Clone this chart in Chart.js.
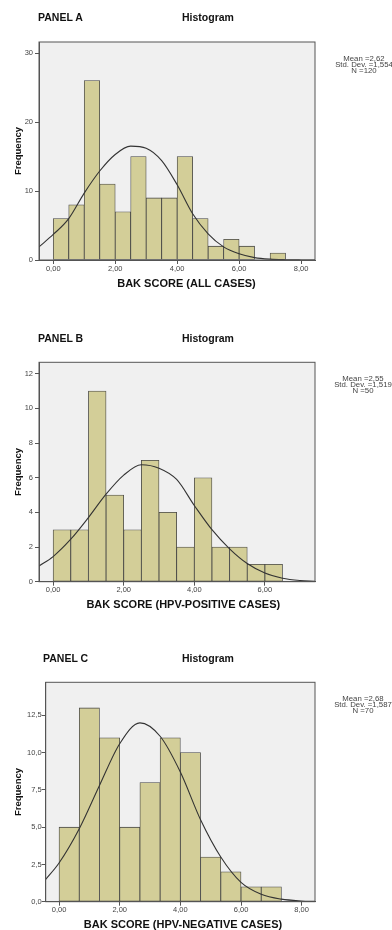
<!DOCTYPE html>
<html>
<head>
<meta charset="utf-8">
<script src="https://cdn.jsdelivr.net/npm/chart.js@4.4.1/dist/chart.umd.min.js"></script>
<style>
  html, body { margin: 0; padding: 0; background: #fff; overflow: hidden; }
  body { width: 392px; height: 930px; position: relative; font-family: 'Liberation Sans', Arial, sans-serif; }
  canvas { position: absolute; left: 0; }
  .pl { position: absolute; white-space: nowrap; font-weight: bold; color: #111; font-size: 10.5px; line-height: 1; transform: translateY(-50%); }
  .t { position: absolute; white-space: nowrap; font-weight: bold; color: #111; line-height: 1; transform: translate(-50%, -50%); }
  .st { position: absolute; white-space: nowrap; color: #444; font-size: 6.5px; line-height: 6px; text-align: center; transform: translateX(-50%) scaleX(1.2); }
</style>
</head>
<body>
<canvas id="chartA" width="392" height="300" style="top:0"></canvas>
<canvas id="chartB" width="392" height="320" style="top:300px"></canvas>
<canvas id="chartC" width="392" height="310" style="top:620px"></canvas>

<div class="pl" style="left:38px;top:16.7px">PANEL A</div>
<div class="t" style="left:208px;top:16.7px;font-size:10.5px">Histogram</div>
<div class="st" style="left:364px;top:56.3px">Mean =2,62<br>Std. Dev. =1,554<br>N =120</div>
<div class="t" style="left:186.5px;top:283.3px;font-size:11px">BAK SCORE (ALL CASES)</div>

<div class="pl" style="left:38px;top:337.7px">PANEL B</div>
<div class="t" style="left:208px;top:337.7px;font-size:10.5px">Histogram</div>
<div class="st" style="left:363px;top:376px">Mean =2,55<br>Std. Dev. =1,519<br>N =50</div>
<div class="t" style="left:183.3px;top:604.3px;font-size:11px">BAK SCORE (HPV-POSITIVE CASES)</div>

<div class="pl" style="left:43px;top:658.3px">PANEL C</div>
<div class="t" style="left:208px;top:658.3px;font-size:10.5px">Histogram</div>
<div class="st" style="left:363px;top:696px">Mean =2,68<br>Std. Dev. =1,587<br>N =70</div>
<div class="t" style="left:183px;top:923.8px;font-size:11px">BAK SCORE (HPV-NEGATIVE CASES)</div>

<script>
// Panel A - all cases (bin width 0,5)
const binsA = [0.25, 0.75, 1.25, 1.75, 2.25, 2.75, 3.25, 3.75, 4.25, 4.75, 5.25, 5.75, 6.25, 6.75, 7.25];
const countsA = [6, 8, 26, 11, 7, 15, 9, 9, 15, 6, 2, 3, 2, 0, 1];
const curveXA = [-0.46, 0, 0.5, 1, 1.5, 2, 2.5, 3, 3.5, 4, 4.5, 5, 5.5, 6, 6.5, 7, 7.5, 8, 8.45];
const curveYA = [1.9, 3.7, 6.0, 9.7, 12.9, 15.3, 16.5, 16.2, 14.4, 10.9, 6.7, 3.8, 1.9, 0.9, 0.35, 0.12, 0.04, 0.01, 0];
const yTicksA = [0, 10, 20, 30];
const xTicksA = [0, 2, 4, 6, 8];

// Panel B - HPV-positive (bin width 0,5)
const binsB = [0.25, 0.75, 1.25, 1.75, 2.25, 2.75, 3.25, 3.75, 4.25, 4.75, 5.25, 5.75, 6.25];
const countsB = [3, 3, 11, 5, 3, 7, 4, 2, 6, 2, 2, 1, 1];
const curveXB = [-0.4, 0, 0.5, 1, 1.5, 2, 2.5, 3, 3.5, 4, 4.5, 5, 5.5, 6, 6.5, 7, 7.42];
const curveYB = [0.9, 1.45, 2.45, 3.7, 5.05, 6.15, 6.75, 6.55, 5.9, 4.4, 3.0, 1.9, 1.05, 0.5, 0.2, 0.07, 0.03];
const yTicksB = [0, 2, 4, 6, 8, 10, 12];
const xTicksB = [0, 2, 4, 6];

// Panel C - HPV-negative (bin width 0,667)
const binsC = [0.3333, 1, 1.6667, 2.3333, 3, 3.6667, 4.3333, 5, 5.6667, 6.3333, 7];
const countsC = [5, 13, 11, 5, 8, 11, 10, 3, 2, 1, 1];
const curveXC = [-0.44, 0, 0.6667, 1.3333, 2, 2.6667, 3.3333, 4, 4.6667, 5.3333, 6, 6.6667, 7.3333, 8, 8.44];
const curveYC = [1.5, 2.6, 4.9, 7.8, 10.6, 12.0, 11.1, 8.7, 5.5, 3.0, 1.3, 0.5, 0.17, 0.05, 0.02];
const yTicksC = [0, 2.5, 5, 7.5, 10, 12.5];
const xTicksC = [0, 2, 4, 6, 8];

Chart.defaults.font.family = "'Liberation Sans', Arial, sans-serif";

const plotFrame = {
  id: 'plotFrame',
  beforeDraw(chart) {
    const a = chart.chartArea, ctx = chart.ctx;
    ctx.save();
    ctx.fillStyle = '#F0F0F0';
    ctx.fillRect(a.left, a.top, a.right - a.left, a.bottom - a.top);
    ctx.restore();
  },
  afterDraw(chart) {
    const a = chart.chartArea, ctx = chart.ctx;
    ctx.save();
    ctx.strokeStyle = '#555';
    ctx.lineWidth = 1;
    ctx.strokeRect(a.left, a.top, a.right - a.left, a.bottom - a.top);
    ctx.restore();
  }
};

const comma = d => v => v.toFixed(d).replace('.', ',');

function histogram(id, o) {
  new Chart(document.getElementById(id), {
    type: 'bar',
    data: {
      datasets: [
        {
          type: 'line',
          data: o.curveX.map((x, i) => ({ x: x, y: o.curveY[i] })),
          borderColor: '#333',
          borderWidth: 1.1,
          pointRadius: 0,
          cubicInterpolationMode: 'monotone',
          order: 0
        },
        {
          data: o.bins.map((x, i) => ({ x: x, y: o.counts[i] })),
          backgroundColor: '#D3CE98',
          borderColor: '#444',
          borderWidth: 0.8,
          borderSkipped: false,
          barPercentage: 1,
          categoryPercentage: 1,
          order: 1
        }
      ]
    },
    options: {
      responsive: false,
      animation: false,
      events: [],
      layout: { padding: { top: o.top, right: 77, bottom: 0, left: 0 } },
      plugins: { legend: { display: false }, tooltip: { enabled: false } },
      scales: {
        x: {
          type: 'linear',
          min: o.xMin,
          max: o.xMax,
          offset: false,
          afterFit: s => { s.height = o.xAxisH; },
          afterBuildTicks: s => { s.ticks = o.xTicks.map(v => ({ value: v })); },
          ticks: { callback: comma(2), font: { size: 7.5 }, color: '#444', padding: 0, maxRotation: 0, autoSkip: false },
          grid: { drawOnChartArea: false, tickLength: 4, color: '#555', offset: false },
          border: { color: '#555' }
        },
        y: {
          min: 0,
          max: o.yMax,
          afterFit: s => { s.width = o.yAxisW; },
          afterBuildTicks: s => { s.ticks = o.yTicks.map(v => ({ value: v })); },
          ticks: { callback: o.yFmt, font: { size: 7.5 }, color: '#444', padding: o.yPad },
          title: { display: true, text: 'Frequency', font: { size: 9.5, weight: 'bold' }, color: '#111', padding: { top: 12.6, bottom: 0 } },
          grid: { drawOnChartArea: false, tickLength: 4, color: '#555' },
          border: { color: '#555' }
        }
      }
    },
    plugins: [plotFrame]
  });
}

histogram('chartA', {
  bins: binsA, counts: countsA, curveX: curveXA, curveY: curveYA,
  xTicks: xTicksA, yTicks: yTicksA, yFmt: comma(0),
  xMin: -0.46, xMax: 8.45, yMax: 31.6,
  top: 42, yAxisW: 39, xAxisH: 40, yPad: 2
});

histogram('chartB', {
  bins: binsB, counts: countsB, curveX: curveXB, curveY: curveYB,
  xTicks: xTicksB, yTicks: yTicksB, yFmt: comma(0),
  xMin: -0.4, xMax: 7.42, yMax: 12.66,
  top: 62.3, yAxisW: 39, xAxisH: 38.3, yPad: 2
});

histogram('chartC', {
  bins: binsC, counts: countsC, curveX: curveXC, curveY: curveYC,
  xTicks: xTicksC, yTicks: yTicksC, yFmt: comma(1),
  xMin: -0.44, xMax: 8.44, yMax: 14.72,
  top: 62.3, yAxisW: 45.7, xAxisH: 28.3, yPad: 0
});
</script>
</body>
</html>
